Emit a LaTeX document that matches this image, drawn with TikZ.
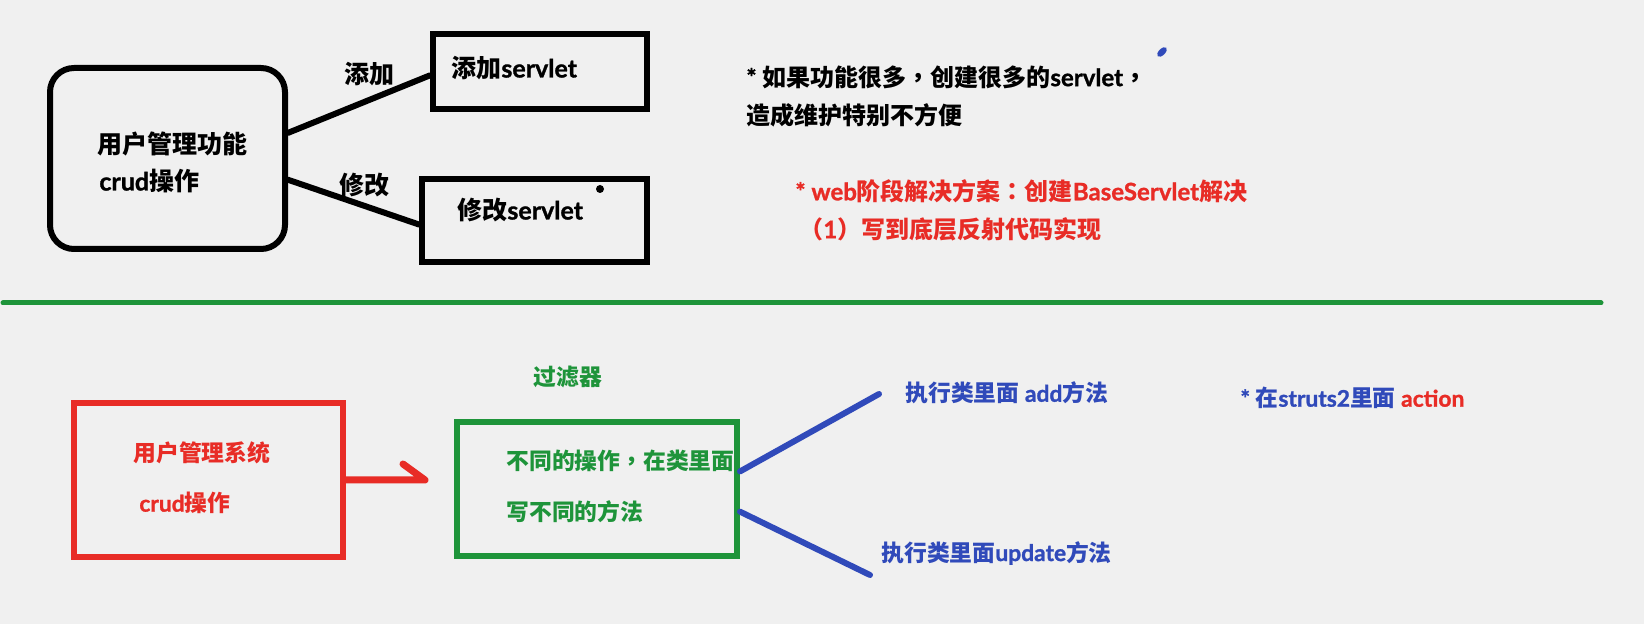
\documentclass[tikz,border=0pt]{standalone}
\usepackage{fontspec}
\setmainfont{Noto Sans CJK SC}
\newfontfamily\latf{Lato}[BoldFeatures={FakeBold=1.2}]
\newfontfamily\tcp{Noto Sans CJK TC}
\newcommand\enw[1]{{\latf\bfseries #1}}
\newcommand\pct[1]{{\tcp #1}}
\usetikzlibrary{positioning}
\definecolor{bg}{RGB}{240,240,240}
\definecolor{rd}{RGB}{232,44,38}
\definecolor{gn}{RGB}{30,148,58}
\definecolor{bl}{RGB}{48,74,186}
\begin{document}
\begin{tikzpicture}[
    x=0.5pt, y=-0.5pt,
    txt/.style={anchor=west, inner sep=0pt, font=\fontsize{12.5}{15}\selectfont\bfseries},
    note/.style={txt, font=\fontsize{12}{15}\selectfont\bfseries},
    low/.style={txt, font=\fontsize{11.4}{14}\selectfont\bfseries},
    fn/.style={draw, line width=3pt, rounded corners=12pt, minimum width=117.5pt, minimum height=90.5pt},
    sv/.style={draw, line width=3pt, inner sep=0pt},
    sys/.style={draw=rd, line width=3pt, minimum width=134.5pt, minimum height=77pt},
    flt/.style={draw=gn, line width=3pt, minimum width=140pt, minimum height=67pt},
    lnk/.style={line width=3pt, line cap=round},
    blnk/.style={bl, line width=3pt, line cap=round}
]
\useasboundingbox[fill=bg] (0,0) rectangle (1644,624);

% --- one servlet per function ---
\node[fn] (ub) at (167.5,158.5) {};
\node[sv, minimum width=107pt, minimum height=37.5pt] (addbox) at (540,71.5) {};
\node[sv, minimum width=112.5pt, minimum height=41.5pt] (modbox) at (534.5,220.5) {};
\node[txt] (ubt1) at (97,144) {用户管理功能};
\node[txt] (ubt2) at (99,181) {\enw{crud}操作};
\node[txt] (addt) at (451,68) {添加\enw{servlet}};
\node[txt] (modt) at (457,210) {修改\enw{servlet}};
\node[txt] (addl) at (344,74) {添加};
\node[txt] (modl) at (339,185) {修改};
\draw[lnk] (ub.12) -- (addbox.182);
\draw[lnk] (ub.-10) -- (modbox.182);
\fill (600,189) circle (2pt);
\fill[bl, rotate around={45:(1162,52)}] (1162,52) ellipse (3pt and 1.6pt);

\node[note] (note1) at (746,77) {\enw{* }如果功能很多\pct{，}创建很多的\enw{servlet}\pct{，}};
\node[note] (note2) at (746,115) {造成维护特别不方便};
\node[note, text=rd] (web1) at (795,191) {\enw{* web}阶段解决方案\pct{：}创建\enw{BaseServlet}解决};
\node[note, text=rd] (web2) at (799,229) {\pct{（}\enw{1}\pct{）}写到底层反射代码实现};

\draw[gn, line width=2.5pt, line cap=round] (3,303) -- (1601,303);

% --- filter with one class ---
\node[sys] (sysbox) at (208.5,480) {};
\node[low, text=rd] (syst1) at (133,453) {用户管理系统};
\node[low, text=rd] (syst2) at (139,503) {\enw{crud}操作};
\node[flt] (fltbox) at (597,489) {};
\node[low, text=gn] (fltl) at (533,377) {过滤器};
\node[low, text=gn] (fltt1) at (506,461) {不同的操作\pct{，}在类里面};
\node[low, text=gn] (fltt2) at (506,512) {写不同的方法};
\coordinate (rtip) at (425,480);
\draw[rd, line width=3.5pt, line join=round, line cap=round] (sysbox.east) -- (rtip) -- ++(-22,-16);

\coordinate (addend) at (879,394);
\coordinate (updend) at (870,575);
\draw[blnk] (fltbox.7) -- (addend);
\draw[blnk] (fltbox.-9) -- (updend);
\node[low, text=bl] (addm) at (905,393) {执行类里面\enw{ add}方法};
\node[low, text=bl] (updm) at (881,553) {执行类里面\enw{update}方法};
\node[low, text=bl] (act) at (1240,398) {\enw{* }在\enw{struts2}里面\enw{ \textcolor{rd}{action}}};
\end{tikzpicture}
\end{document}
